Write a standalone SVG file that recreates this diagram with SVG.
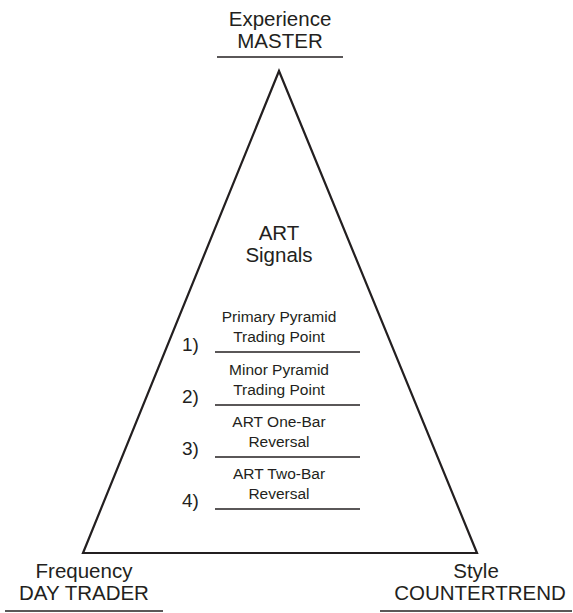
<svg xmlns="http://www.w3.org/2000/svg" width="573" height="613" viewBox="0 0 573 613">
<style>
text{font-family:"Liberation Sans",Arial,sans-serif;fill:#231f20;text-anchor:middle}
.big{font-size:20.5px}
.sm{font-size:15.5px}
.num{font-size:19px;text-anchor:start}
line{stroke:#231f20;stroke-width:1.3}
</style>
<rect width="573" height="613" fill="#fff"/>
<g id="pyramid">
<polygon points="279,71 83,553 477,553" fill="none" stroke="#231f20" stroke-width="2.2" stroke-linejoin="miter"/>
</g>
<g id="top">
<text class="big" x="280" y="26">Experience</text>
<text class="big" x="280" y="48">MASTER</text>
<line x1="217" y1="57" x2="343" y2="57"/>
</g>
<g id="left">
<text class="big" x="84" y="578">Frequency</text>
<text class="big" x="84" y="600">DAY TRADER</text>
<line x1="5" y1="611" x2="163" y2="611"/>
</g>
<g id="right">
<text class="big" x="476" y="578">Style</text>
<text class="big" x="480" y="600">COUNTERTREND</text>
<line x1="380" y1="611" x2="572" y2="611"/>
</g>
<g id="title">
<text class="big" x="279" y="240">ART</text>
<text class="big" x="279" y="262">Signals</text>
</g>
<g id="signal1">
<text class="num" x="182" y="351">1)</text>
<text class="sm" x="279" y="322">Primary Pyramid</text>
<text class="sm" x="279" y="342">Trading Point</text>
<line x1="215" y1="352" x2="360" y2="352"/>
</g>
<g id="signal2">
<text class="num" x="182" y="403">2)</text>
<text class="sm" x="279" y="375">Minor Pyramid</text>
<text class="sm" x="279" y="395">Trading Point</text>
<line x1="215" y1="405" x2="360" y2="405"/>
</g>
<g id="signal3">
<text class="num" x="182" y="455">3)</text>
<text class="sm" x="279" y="427">ART One-Bar</text>
<text class="sm" x="279" y="447">Reversal</text>
<line x1="215" y1="457" x2="360" y2="457"/>
</g>
<g id="signal4">
<text class="num" x="182" y="507">4)</text>
<text class="sm" x="279" y="479">ART Two-Bar</text>
<text class="sm" x="279" y="499">Reversal</text>
<line x1="215" y1="509" x2="360" y2="509"/>
</g>
</svg>
